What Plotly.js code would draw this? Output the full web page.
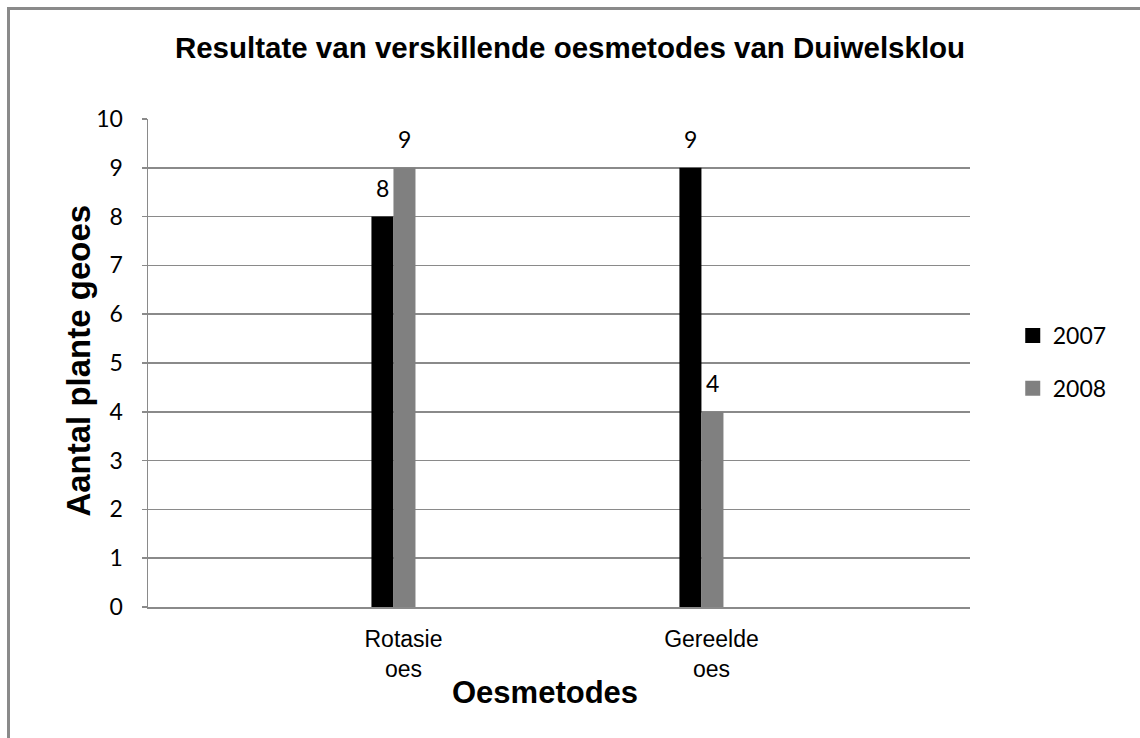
<!DOCTYPE html>
<html>
<head>
<meta charset="utf-8">
<script src="https://cdn.plot.ly/plotly-3.0.1.min.js"></script>
<style>
  html, body { margin:0; padding:0; background:#fff; overflow:hidden; }
  #frame { position:absolute; left:7px; top:7px; width:1200px; height:800px; border:3px solid #8a8a8a; box-sizing:border-box; }
  #chart { position:absolute; left:0; top:0; width:1140px; height:738px; }
</style>
</head>
<body>
<div id="frame"></div>
<div id="chart"></div>
<script>
const categories = ["Rotasie<br>oes", "Gereelde<br>oes"];
const seriesNames = ["2007", "2008"];
const values2007 = [8, 9];
const values2008 = [9, 4];
const yTicks = [0,1,2,3,4,5,6,7,8,9,10];

const colors = ["#000000", "#808080"];
const seriesValues = [values2007, values2008];

const numFont = "Lato, 'Open Sans', sans-serif";
const arial = "'Liberation Sans', Arial, sans-serif";

const traces = [];
seriesValues.forEach((vals, i) => {
  traces.push({
    type: "bar", x: categories, y: vals, name: seriesNames[i],
    marker: {color: colors[i], line: {width: 0}},
    showlegend: false, hoverinfo: "skip"
  });
});
seriesValues.forEach((vals, i) => {
  traces.push({
    type: "scatter", mode: "markers", x: [null], y: [null], name: seriesNames[i],
    marker: {symbol: "square", size: 15, color: colors[i]},
    legendgroup: "g" + i, showlegend: true, hoverinfo: "skip"
  });
});

const annotations = [];
seriesValues.forEach((vals, i) => {
  vals.forEach((v, j) => {
    annotations.push({
      x: categories[j], y: v, xref: "x", yref: "y",
      text: String(v), showarrow: false,
      xshift: i === 0 ? -11 : 11, yshift: 13, yanchor: "bottom",
      font: {family: numFont, size: 23, color: "#000"}
    });
  });
});
annotations.push({
  text: "<b>Oesmetodes</b>", showarrow: false, xref: "paper", yref: "paper",
  x: 0.483, y: -0.176, xanchor: "center", yanchor: "middle",
  font: {family: arial, size: 31, color: "#000"}
});
annotations.push({
  text: "<b>Aantal plante geoes</b>", showarrow: false, xref: "paper", yref: "paper",
  x: -0.0857, y: 0.504, xanchor: "center", yanchor: "middle", textangle: -90,
  font: {family: arial, size: 33, color: "#000"}
});

const layout = {
  width: 1140, height: 738,
  paper_bgcolor: "rgba(0,0,0,0)", plot_bgcolor: "#fff",
  margin: {l: 148, r: 170, t: 119, b: 131},
  title: {text: "<b>Resultate van verskillende oesmetodes van Duiwelsklou</b>",
          x: 0.5, xref: "container", xanchor: "center", y: 0.935, yref: "container", yanchor: "middle",
          font: {family: arial, size: 29.5, color: "#000"}},
  barmode: "group", bargap: 0.857, bargroupgap: 0,
  xaxis: {type: "category", range: [-0.797, 1.872], showline: true, linecolor: "#8a8a8a", linewidth: 1.5,
          ticks: "", showgrid: false, zeroline: false, ticklabelshift: 10, ticklabelstandoff: 11,
          tickfont: {family: arial, size: 23, color: "#000"}, fixedrange: true},
  yaxis: {range: [0, 10], tickvals: yTicks, ticktext: yTicks.map(String), showline: true, linecolor: "#8a8a8a", linewidth: 1.5,
          showgrid: true, gridcolor: "#8a8a8a", gridwidth: 1.5, zeroline: false,
          ticks: "outside", ticklen: 5, tickcolor: "#8a8a8a", tickwidth: 1.5, ticklabelstandoff: 14,
          tickfont: {family: numFont, size: 23, color: "#000"}, fixedrange: true},
  legend: {x: 1.052, y: 0.502, xanchor: "left", yanchor: "middle", traceorder: "grouped", tracegroupgap: 20,
           font: {family: numFont, size: 23, color: "#000"}, itemwidth: 30, bgcolor: "rgba(0,0,0,0)"},
  annotations: annotations,
  showlegend: true
};

Plotly.newPlot("chart", traces, layout, {staticPlot: true, displayModeBar: false});
</script>
</body>
</html>
